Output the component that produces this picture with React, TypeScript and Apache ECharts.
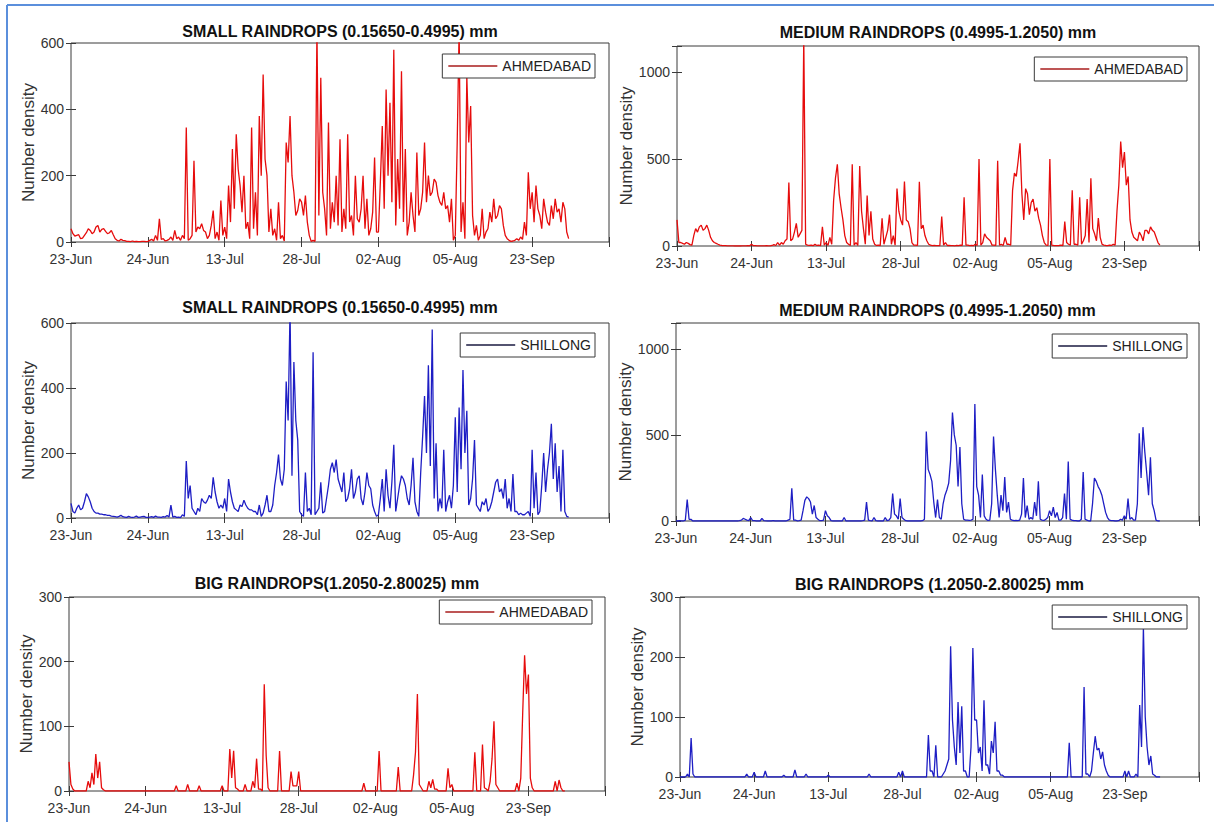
import React, { useEffect, useRef } from "react";
import * as echarts from "echarts";

// ---------- data (samples, evenly spaced in time) ----------
const tickLabels = ["23-Jun", "24-Jun", "13-Jul", "28-Jul", "02-Aug", "05-Aug", "23-Sep"];

const smallAhmedabad = [
  40, 25, 18, 20, 22, 10, 12, 20, 28, 40, 35, 25, 30, 45, 50, 30, 38, 40, 32, 25, 28, 35, 22, 10,
  5, 3, 8, 5, 4, 2, 2, 1, 3, 1, 2, 1, 1, 2, 2, 1,
  2, 5, 8, 3, 20, 5, 70, 8, 10, 3, 5, 8, 15, 5, 35, 10, 15, 5, 20, 10,
  345, 5, 10, 20, 245, 30, 45, 40, 55, 35, 30, 10, 20, 50, 95, 10, 30, 5, 125, 20,
  45, 10, 170, 60, 280, 100, 325, 220, 170, 90, 200, 40, 60, 10, 345, 40, 150, 20, 380, 200,
  505, 250, 200, 30, 100, 20, 40, 5, 120, 10, 20, 3, 300, 240, 380, 200, 150, 80, 95, 130,
  120, 80, 140, 60, 20, 2, 5, 2, 640, 80, 495, 150, 100, 20, 360, 40, 120, 60, 200, 50,
  310, 30, 100, 40, 325, 60, 80, 20, 200, 70, 60, 100, 200, 40, 130, 20, 40, 90, 255, 30,
  30, 180, 350, 100, 460, 200, 420, 120, 580, 50, 250, 100, 515, 60, 280, 20, 60, 150, 80, 30,
  270, 80, 100, 150, 300, 120, 200, 140, 150, 190, 180, 140, 120, 110, 150, 100, 110, 60, 130, 5,
  20, 300, 640, 30, 120, 10, 500, 300, 410, 80, 20, 50, 5, 20, 100, 10, 30, 40, 90, 60,
  130, 70, 80, 110, 100, 50, 20, 10, 5, 2, 3, 5, 10, 5, 15, 8, 60, 20, 210, 100,
  150, 60, 170, 100, 80, 40, 130, 90, 60, 50, 110, 70, 130, 90, 100, 60, 120, 100, 30, 10,
];

const mediumAhmedabad = [
  150, 20, 20, 15, 10, 20, 15, 8, 5, 60, 100, 80, 110, 120, 90, 100, 120, 90, 50, 30,
  20, 15, 10, 5, 3, 2, 2, 1, 1, 1, 1, 0, 0, 0, 0, 1, 1, 1, 2, 1,
  10, 2, 2, 1, 1, 1, 1, 1, 2, 1, 1, 3, 8, 3, 20, 5, 20, 10, 30, 40,
  365, 30, 40, 80, 130, 50, 70, 90, 1200, 10, 5, 3, 5, 2, 10, 3, 5, 2, 110, 5,
  20, 3, 50, 10, 260, 390, 470, 300, 220, 150, 60, 20, 10, 3, 470, 5, 20, 3, 460, 200,
  100, 10, 290, 60, 200, 40, 10, 3, 5, 2, 160, 10, 50, 90, 180, 10, 60, 5, 330, 200,
  150, 120, 370, 150, 140, 100, 20, 5, 5, 3, 370, 100, 120, 60, 30, 10, 5, 2, 3, 2,
  2, 3, 170, 5, 20, 3, 3, 2, 2, 1, 3, 2, 5, 3, 280, 5, 5, 2, 3, 2,
  10, 3, 500, 5, 20, 70, 50, 40, 30, 5, 5, 3, 490, 5, 10, 3, 50, 10, 10, 5,
  320, 420, 400, 490, 590, 300, 150, 330, 300, 180, 250, 270, 200, 220, 160, 120, 60, 20, 5, 3,
  500, 5, 3, 2, 2, 3, 5, 2, 140, 20, 10, 5, 320, 10, 10, 5, 280, 10, 30, 60,
  270, 20, 390, 100, 70, 30, 160, 50, 10, 5, 3, 2, 5, 3, 10, 5, 200, 350, 600, 450,
  540, 350, 400, 150, 80, 50, 40, 30, 80, 60, 30, 90, 90, 70, 110, 90, 80, 50, 20, 5,
];

const smallShillong = [
  45, 20, 15, 30, 40, 25, 30, 50, 75, 65, 50, 30, 20, 15, 15, 12, 12, 10, 10, 8,
  8, 6, 5, 4, 3, 5, 8, 4, 3, 2, 5, 3, 2, 3, 6, 2, 3, 4, 5, 2,
  2, 3, 4, 2, 6, 3, 3, 2, 4, 3, 8, 3, 40, 3, 5, 2, 3, 1, 10, 5,
  175, 60, 100, 30, 20, 10, 30, 20, 60, 50, 45, 55, 70, 60, 125, 80, 50, 30, 40, 30,
  60, 20, 120, 80, 50, 30, 25, 20, 40, 35, 55, 40, 30, 25, 25, 20, 20, 10, 40, 5,
  15, 40, 70, 20, 20, 40, 100, 140, 195, 120, 100, 150, 420, 300, 640, 130, 480, 300, 240, 20,
  10, 5, 140, 20, 30, 10, 510, 10, 20, 30, 110, 15, 20, 60, 100, 150, 170, 140, 180, 120,
  100, 80, 140, 50, 60, 90, 150, 60, 80, 120, 130, 60, 40, 80, 140, 100, 90, 40, 20, 5,
  10, 60, 120, 20, 150, 70, 30, 110, 225, 20, 60, 100, 130, 120, 100, 60, 40, 100, 185, 50,
  20, 5, 140, 250, 375, 200, 470, 160, 580, 60, 230, 20, 60, 30, 210, 20, 50, 70, 30, 100,
  310, 80, 340, 150, 455, 200, 330, 40, 60, 120, 240, 40, 30, 20, 50, 40, 60, 20, 30, 50,
  80, 110, 120, 80, 90, 60, 120, 30, 60, 20, 135, 20, 20, 10, 15, 10, 10, 15, 20, 5,
  210, 30, 140, 10, 20, 100, 200, 80, 150, 200, 290, 120, 230, 80, 160, 20, 210, 20, 5, 3,
];

const mediumShillong = [
  0, 0, 2, 0, 0, 5, 125, 10, 10, 0, 0, 0, 0, 0, 0, 0, 1, 0, 0, 0,
  0, 0, 0, 0, 0, 0, 1, 0, 0, 0, 0, 0, 0, 0, 2, 5, 15, 10, 5, 2,
  20, 3, 2, 0, 0, 0, 15, 2, 1, 0, 0, 0, 2, 0, 0, 0, 1, 0, 0, 0,
  5, 10, 190, 5, 5, 0, 2, 5, 60, 120, 140, 130, 110, 40, 90, 20, 10, 2, 2, 5,
  60, 30, 20, 2, 0, 0, 0, 0, 0, 0, 20, 0, 0, 0, 0, 0, 0, 0, 0, 0,
  2, 5, 110, 5, 2, 0, 20, 2, 0, 0, 0, 0, 20, 2, 5, 20, 160, 40, 30, 10,
  130, 20, 10, 2, 0, 0, 0, 0, 0, 0, 0, 0, 2, 10, 520, 300, 270, 230, 110, 20,
  125, 20, 10, 100, 150, 180, 220, 350, 630, 500, 440, 200, 430, 100, 10, 5, 5, 3, 5, 10,
  680, 200, 150, 20, 270, 30, 10, 3, 5, 100, 490, 300, 150, 20, 150, 60, 255, 50, 110, 10,
  5, 2, 3, 2, 5, 40, 250, 20, 90, 10, 20, 10, 110, 30, 230, 10, 5, 3, 10, 20,
  60, 30, 80, 20, 50, 5, 5, 20, 160, 10, 345, 10, 5, 2, 2, 0, 0, 10, 285, 10,
  5, 0, 0, 100, 250, 230, 200, 180, 150, 100, 50, 20, 5, 2, 2, 0, 0, 2, 10, 5,
  30, 10, 130, 10, 20, 5, 5, 100, 510, 250, 545, 400, 280, 150, 370, 100, 60, 5, 0, 0,
];

const bigAhmedabad = [
  45, 10, 3, 0, 0, 0, 0, 0, 0, 0, 15, 5, 28, 10, 57, 20, 45, 5, 2, 0,
  0, 0, 0, 0, 0, 0, 0, 0, 0, 0, 0, 0, 0, 0, 0, 0, 0, 0, 0, 0,
  0, 0, 0, 0, 0, 0, 0, 0, 0, 0, 0, 0, 0, 0, 0, 0, 8, 0, 0, 0,
  0, 0, 10, 0, 0, 0, 0, 0, 8, 0, 0, 0, 0, 0, 0, 0, 0, 0, 0, 0,
  8, 0, 0, 0, 65, 20, 62, 5, 3, 0, 0, 0, 10, 0, 0, 0, 15, 5, 50, 3,
  3, 0, 165, 55, 5, 0, 0, 0, 0, 0, 62, 0, 0, 0, 0, 0, 30, 8, 8, 8,
  30, 0, 0, 0, 0, 0, 0, 0, 0, 0, 0, 0, 0, 0, 0, 0, 0, 0, 0, 0,
  0, 0, 0, 0, 0, 0, 0, 0, 0, 0, 0, 0, 0, 0, 12, 0, 0, 0, 0, 0,
  0, 0, 62, 0, 0, 0, 0, 0, 0, 0, 0, 0, 37, 0, 0, 0, 0, 0, 0, 0,
  25, 60, 150, 10, 5, 0, 0, 0, 15, 5, 18, 3, 3, 0, 0, 0, 0, 0, 35, 5,
  10, 0, 0, 0, 0, 0, 0, 0, 0, 0, 0, 0, 60, 0, 0, 0, 72, 5, 3, 0,
  15, 50, 108, 10, 5, 0, 0, 0, 0, 0, 0, 0, 0, 0, 12, 0, 20, 120, 210, 150,
  180, 20, 5, 0, 0, 0, 0, 0, 0, 0, 0, 0, 0, 0, 15, 0, 17, 5, 0, 0,
];

const bigShillong = [
  0, 0, 0, 0, 5, 0, 65, 5, 0, 0, 0, 0, 0, 0, 0, 0, 0, 0, 0, 0,
  0, 0, 0, 0, 0, 0, 0, 0, 0, 0, 0, 0, 0, 0, 0, 0, 5, 0, 0, 0,
  8, 0, 0, 0, 0, 0, 10, 0, 0, 0, 0, 0, 0, 0, 0, 0, 3, 0, 0, 0,
  0, 0, 12, 0, 0, 0, 0, 0, 5, 0, 0, 0, 0, 0, 0, 0, 0, 0, 0, 0,
  3, 0, 0, 0, 0, 0, 0, 0, 0, 0, 0, 0, 0, 0, 0, 0, 0, 0, 0, 0,
  0, 0, 5, 0, 0, 0, 0, 0, 0, 0, 0, 0, 0, 0, 0, 0, 0, 0, 8, 0,
  10, 0, 0, 0, 0, 0, 0, 0, 0, 0, 0, 0, 0, 0, 70, 10, 10, 0, 53, 0,
  0, 0, 5, 10, 20, 30, 218, 95, 50, 20, 125, 40, 118, 10, 10, 0, 0, 50, 215, 95,
  95, 40, 50, 10, 128, 20, 20, 5, 60, 40, 92, 10, 10, 3, 3, 0, 0, 0, 0, 0,
  0, 0, 0, 0, 0, 0, 0, 0, 0, 0, 0, 0, 0, 0, 0, 0, 0, 0, 0, 0,
  0, 0, 0, 0, 0, 0, 0, 0, 0, 0, 57, 0, 0, 0, 0, 0, 0, 0, 150, 5,
  5, 0, 10, 40, 68, 45, 48, 30, 42, 20, 10, 3, 0, 0, 0, 0, 0, 0, 0, 0,
  10, 0, 10, 0, 0, 0, 5, 0, 120, 50, 250, 100, 50, 20, 35, 5, 3, 0, 0, 0,
];

const titles = [
  "SMALL RAINDROPS (0.15650-0.4995) mm",
  "MEDIUM RAINDROPS (0.4995-1.2050) mm",
  "SMALL RAINDROPS (0.15650-0.4995) mm",
  "MEDIUM RAINDROPS (0.4995-1.2050) mm",
  "BIG RAINDROPS(1.2050-2.80025) mm",
  "BIG RAINDROPS (1.2050-2.80025) mm",
];
const stations = ["AHMEDABAD", "AHMEDABAD", "SHILLONG", "SHILLONG", "AHMEDABAD", "SHILLONG"];
const seriesValues = [smallAhmedabad, mediumAhmedabad, smallShillong, mediumShillong, bigAhmedabad, bigShillong];
const yMax = [600, 1150, 600, 1150, 300, 300];
const yStep = [200, 500, 200, 500, 100, 100];
const X_MAX = 280; // samples across the full axis box
const X_STEP = 40; // samples between date ticks

// ---------- layout / style ----------
const FONT = "'Liberation Sans', Arial, Helvetica, sans-serif";
const AX = "#3a3a3a";
const layout = [
  { left: 71, top: 43, width: 538, height: 199, nameGap: 30, titleY: 31, legRight: 619, legTop: 54 },
  { left: 677, top: 46, width: 522, height: 200, nameGap: 40, titleY: 32, legRight: 27, legTop: 57 },
  { left: 71, top: 323, width: 538, height: 195, nameGap: 31, titleY: 307, legRight: 619, legTop: 333 },
  { left: 676, top: 323, width: 523, height: 198, nameGap: 37, titleY: 310, legRight: 27, legTop: 334 },
  { left: 69, top: 597, width: 536, height: 194, nameGap: 33, titleY: 583, legRight: 622, legTop: 600 },
  { left: 680, top: 597, width: 519, height: 180, nameGap: 33, titleY: 584, legRight: 27, legTop: 605 },
];
const lineColor = { AHMEDABAD: "#e60c0c", SHILLONG: "#1e1ec4" } as Record<string, string>;
const legendColor = { AHMEDABAD: "#a81c1c", SHILLONG: "#1a1a40" } as Record<string, string>;

function buildOption() {
  const grid: any[] = [];
  const xAxis: any[] = [];
  const yAxis: any[] = [];
  const series: any[] = [];
  const legend: any[] = [];
  const graphic: any[] = [];

  layout.forEach((l, i) => {
    grid.push({
      left: l.left, top: l.top, width: l.width, height: l.height,
      show: true, borderColor: AX, borderWidth: 1, backgroundColor: "#fff",
      containLabel: false,
    });
    const tick = { show: true, inside: true, length: 5, lineStyle: { color: AX, width: 1 } };
    xAxis.push({
      type: "value", gridIndex: i, min: 0, max: X_MAX, interval: X_STEP,
      axisLine: { show: false }, splitLine: { show: false }, axisTick: tick,
      axisLabel: {
        fontSize: 14, color: "#333", margin: 10, fontFamily: FONT,
        formatter: (v: number) => tickLabels[Math.round(v / X_STEP)] ?? "",
      },
    });
    xAxis.push({
      type: "value", gridIndex: i, min: 0, max: X_MAX, interval: X_STEP, position: "top",
      axisLine: { show: false }, splitLine: { show: false }, axisTick: tick,
      axisLabel: { show: false },
    });
    yAxis.push({
      type: "value", gridIndex: i, min: 0, max: yMax[i], interval: yStep[i],
      axisLine: { show: false }, splitLine: { show: false }, axisTick: tick,
      name: "Number density", nameLocation: "middle", nameGap: l.nameGap,
      nameTextStyle: { fontSize: 17, color: "#333", fontFamily: FONT },
      axisLabel: {
        fontSize: 14, color: "#333", margin: 7, fontFamily: FONT,
        formatter: (v: number) => (v % yStep[i] === 0 ? String(v) : ""),
      },
    });
    yAxis.push({
      type: "value", gridIndex: i, min: 0, max: yMax[i], interval: yStep[i], position: "right",
      axisLine: { show: false }, splitLine: { show: false }, axisTick: tick,
      axisLabel: { show: false },
    });
    const st = stations[i];
    series.push({
      type: "line", name: st, xAxisIndex: 2 * i, yAxisIndex: 2 * i,
      data: seriesValues[i].map((v, k) => [k, v]),
      symbol: "none", showSymbol: false, clip: true,
      lineStyle: { color: lineColor[st], width: 1.3 }, itemStyle: { color: lineColor[st] },
    });
    legend.push({
      data: [{ name: st, icon: "rect", itemStyle: { color: legendColor[st] } }],
      right: l.legRight, top: l.legTop, orient: "horizontal",
      itemWidth: 49, itemHeight: 1.5, selectedMode: false,
      borderColor: AX, borderWidth: 1, backgroundColor: "#fff",
      padding: [5, 4, 5, 6],
      textStyle: { fontSize: 14, color: "#222", fontFamily: FONT },
    });
    graphic.push({
      type: "text", x: l.left + l.width / 2, y: l.titleY,
      style: {
        text: titles[i], fill: "#111", font: `bold 16px ${FONT}`,
        textAlign: "center", textVerticalAlign: "middle",
      },
    });
  });

  graphic.push({ type: "line", shape: { x1: 7, y1: 5, x2: 1214, y2: 5 }, style: { stroke: "#5b8fdc", lineWidth: 2 } });
  graphic.push({ type: "line", shape: { x1: 7, y1: 5, x2: 7, y2: 822 }, style: { stroke: "#5b8fdc", lineWidth: 2 } });

  return {
    animation: false,
    backgroundColor: "#fff",
    textStyle: { fontFamily: FONT },
    grid, xAxis, yAxis, series, legend, graphic,
  };
}

export default function App() {
  const ref = useRef<HTMLDivElement>(null);
  useEffect(() => {
    if (!ref.current) return;
    const chart = echarts.init(ref.current, undefined, { renderer: "svg" });
    chart.setOption(buildOption());
    return () => chart.dispose();
  }, []);
  return (
    <div
      ref={ref}
      style={{ position: "fixed", left: 0, top: 0, width: 1214, height: 822, background: "#fff" }}
    />
  );
}
